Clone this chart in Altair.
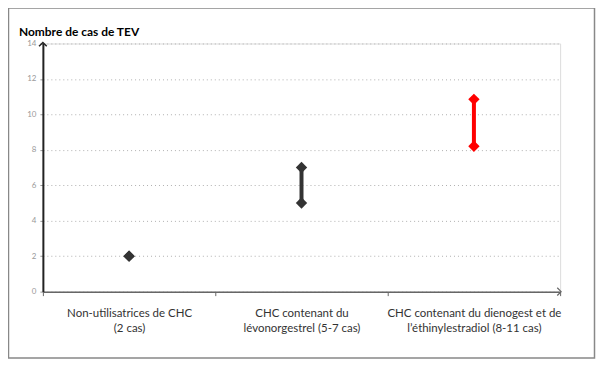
import altair as alt
import pandas as pd

categories = [
    "Non-utilisatrices de CHC\n(2 cas)",
    "CHC contenant du\nlévonorgestrel (5-7 cas)",
    "CHC contenant du dienogest et de\nl’éthinylestradiol (8-11 cas)",
]
low = [2, 5, 8.2]
high = [2, 7, 10.85]
colors = ["#333333", "#333333", "#ff0000"]
y_ticks = [0, 2, 4, 6, 8, 10, 12, 14]
title_text = "Nombre de cas de TEV"

W, H = 519, 249
FONT = "Lato"

df = pd.DataFrame({"cat": categories, "low": low, "high": high, "color": colors})
pts = pd.concat([
    df[["cat", "color"]].assign(v=df["low"]),
    df[["cat", "color"]].assign(v=df["high"]),
])

xscale = alt.Scale(domain=categories, paddingInner=0, paddingOuter=0)
yscale = alt.Scale(domain=[0, 14], nice=False)

xaxis = alt.Axis(
    title=None, tickBand="extent",
    labelExpr="isValid(datum.value) ? split(datum.value, '\\n') : ''",
    labelAngle=0, labelFont=FONT, labelFontSize=11.5, labelColor="#333333",
    labelPadding=12, labelLineHeight=15, domainColor="#666666", domainWidth=1.5,
    tickColor="#666666", tickSize=4, labelLimit=300, grid=False,
)
yaxis = alt.Axis(
    title=None, values=y_ticks, labelFont=FONT, labelFontSize=8, labelColor="#999999",
    labelPadding=4, tickSize=3, tickColor="#999999", domainColor="#222222",
    labelOverlap=False, labelFlush=False,
    domainWidth=2, grid=True, gridColor="#b0b0b0", gridDash=[1, 3], gridWidth=1,
)

base = alt.Chart(df)

rules = base.mark_rule(strokeWidth=4).encode(
    x=alt.X("cat:N", scale=xscale, axis=xaxis, sort=categories),
    y=alt.Y("low:Q", scale=yscale, axis=yaxis),
    y2="high:Q",
    color=alt.Color("color:N", scale=None),
)

points = alt.Chart(pts).mark_point(shape="diamond", filled=True, size=130, opacity=1).encode(
    x=alt.X("cat:N", scale=xscale, axis=xaxis, sort=categories),
    y=alt.Y("v:Q", scale=yscale, axis=yaxis),
    color=alt.Color("color:N", scale=None),
)

one = pd.DataFrame({"a": [0]})

frame = alt.Chart(one).mark_rect(fill=None, stroke="#888888", strokeWidth=1.5).encode(
    x=alt.value(-34.5), x2=alt.value(553.5), y=alt.value(-35.5), y2=alt.value(315.5)
)

arrow_path = "M-1,1L0,0L1,1"
y_arrow = alt.Chart(one).mark_point(shape=arrow_path, filled=False, size=60,
                                    stroke="#222222", strokeWidth=1.5, opacity=1).encode(
    x=alt.value(0), y=alt.value(-1)
)
x_arrow = alt.Chart(one).mark_point(shape=arrow_path, filled=False, size=60, angle=90,
                                    stroke="#666666", strokeWidth=1.2, opacity=1).encode(
    x=alt.value(W + 1), y=alt.value(H)
)

title = alt.Chart(one).mark_text(
    text=title_text, font=FONT, fontSize=12, fontWeight="bold", color="#000000",
    align="left", baseline="alphabetic",
).encode(x=alt.value(-24), y=alt.value(-8))

chart = alt.layer(frame, rules, points, y_arrow, x_arrow, title).properties(
    width=W, height=H,
    autosize=alt.AutoSizeParams(type="none"),
    padding={"left": 35, "top": 35, "right": 37, "bottom": 68},
).configure_view(stroke=None).configure(background="white")

chart.save("out.html", embed_options={"renderer": "svg", "actions": False})
